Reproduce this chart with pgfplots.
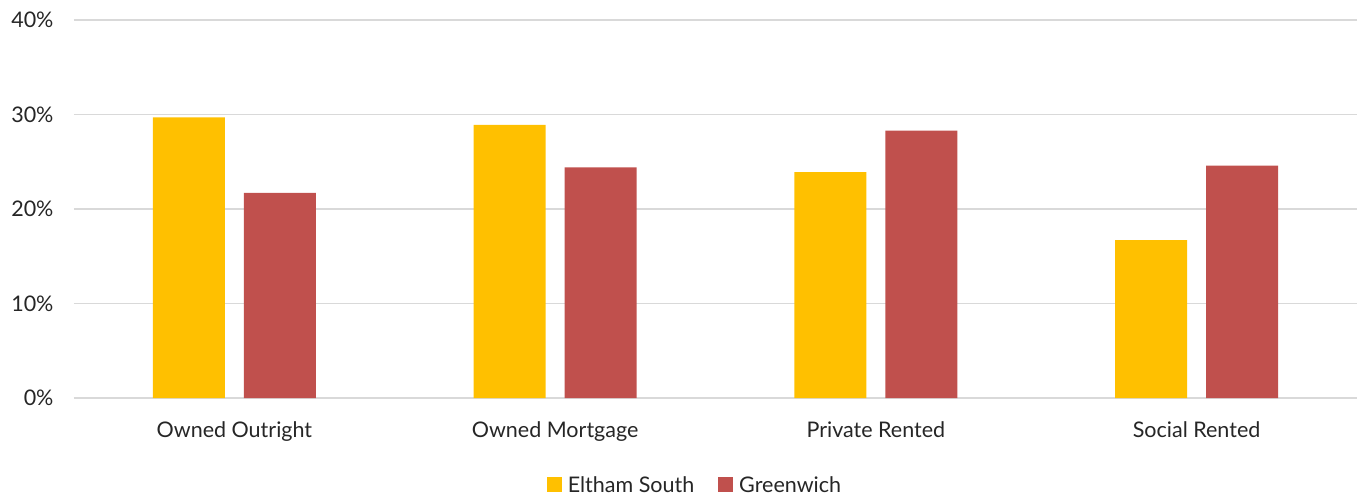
\documentclass[border=0pt]{standalone}
\usepackage{pgfplots}
\pgfplotsset{compat=1.18}
\usepackage{fontspec}
\setmainfont{Lato}
\definecolor{cYel}{HTML}{FFC000}
\definecolor{cRed}{HTML}{C0504D}
\definecolor{cGrid}{HTML}{D9D9D9}
\definecolor{cTxt}{HTML}{262626}
\begin{document}
\begin{tikzpicture}[x=1pt,y=1pt]
\path[use as bounding box] (0,0) rectangle (1363,501);
\begin{axis}[
  at={(74pt,103pt)}, anchor=south west,
  scale only axis, width=1283pt, height=378pt,
  ymin=0, ymax=40, xmin=-0.5, xmax=3.5,
  ybar=19pt, bar width=72pt,
  axis line style={draw=none},
  ytick={0,10,20,30,40},
  yticklabel={\pgfmathprintnumber{\tick}\%},
  ymajorgrids, grid style={cGrid, line width=1.5pt},
  major tick length=0pt,
  xtick={0,1,2,3},
  xticklabels={Owned Outright, Owned Mortgage, Private Rented, Social Rented},
  tick label style={font=\fontsize{21.5}{25}\selectfont, text=cTxt},
  xticklabel style={yshift=-20pt},
  yticklabel style={xshift=-17pt},
  /pgf/number format/assume math mode=true,
  legend style={at={(0.484,-0.23)}, anchor=center, draw=none, fill=none,
    legend columns=2, font=\fontsize{21.5}{25}\selectfont, text=cTxt,
    /tikz/every even column/.append style={column sep=22pt}},
  legend image code/.code={\fill[#1] (0pt,-7pt) rectangle (15pt,8pt);},
]
\addplot[fill=cYel, draw=none] coordinates {(0,29.7) (1,28.9) (2,23.9) (3,16.7)};
\addplot[fill=cRed, draw=none] coordinates {(0,21.7) (1,24.4) (2,28.3) (3,24.6)};
\legend{\hspace{4pt}Eltham South, \hspace{4pt}Greenwich}
\end{axis}
\end{tikzpicture}
\end{document}
